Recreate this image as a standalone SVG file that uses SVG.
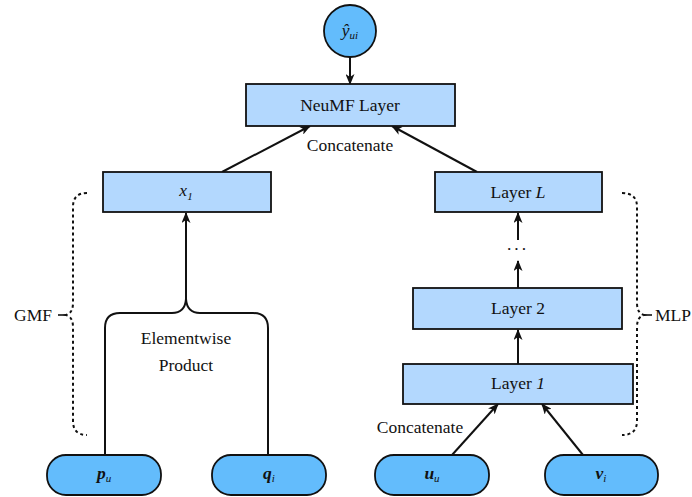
<svg xmlns="http://www.w3.org/2000/svg" width="692" height="497" viewBox="0 0 692 497">
<style>
.box{fill:#b3d8fe;stroke:#111;stroke-width:1.8}
.inp{fill:#63bcfc;stroke:#111;stroke-width:1.8}
.t{font-family:"Liberation Serif","Times New Roman",serif;font-size:17.5px;fill:#111;text-anchor:middle}
.ln{fill:none;stroke:#111;stroke-width:2}
.dot{fill:none;stroke:#111;stroke-width:2;stroke-dasharray:3,3}
</style>
<defs>
<marker id="ah" markerWidth="11" markerHeight="9" refX="10" refY="4.5" orient="auto" markerUnits="userSpaceOnUse">
<path d="M0,0 L11,4.5 L0,9 L3,4.5 Z" fill="#111"/>
</marker>
</defs>
<g id="connectors">
<line class="ln" x1="350" y1="57" x2="350" y2="84" marker-end="url(#ah)"/>
<line class="ln" x1="222" y1="172" x2="310" y2="126" marker-end="url(#ah)"/>
<line class="ln" x1="477" y1="172" x2="392" y2="126" marker-end="url(#ah)"/>
<line class="ln" x1="518" y1="240" x2="518" y2="213" marker-end="url(#ah)"/>
<line class="ln" x1="518" y1="288" x2="518" y2="261" marker-end="url(#ah)"/>
<line class="ln" x1="518" y1="364" x2="518" y2="330" marker-end="url(#ah)"/>
<line class="ln" x1="452" y1="455" x2="498" y2="404" marker-end="url(#ah)"/>
<line class="ln" x1="583" y1="455" x2="542" y2="404" marker-end="url(#ah)"/>
<path class="ln" d="M105,455 L105,328 Q105,313 120,313 L172,313 Q185,313 186,299 Q187,313 200,313 L253,313 Q268,313 268,328 L268,455"/>
<line class="ln" x1="186" y1="300" x2="186" y2="213" marker-end="url(#ah)"/>
<text class="t" x="350" y="151">Concatenate</text>
<text class="t" x="420" y="433">Concatenate</text>
<text class="t" x="186" y="344">Elementwise</text>
<text class="t" x="186" y="371">Product</text>
<text class="t" x="518" y="250" letter-spacing="3">...</text>
</g>
<g id="gmf">
<path class="dot" d="M87,193 Q73,193 73,207 L73,303 Q73,313 66,315 Q73,317 73,327 L73,421 Q73,435 87,435"/>
<line x1="58" y1="315" x2="66" y2="315" stroke="#111" stroke-width="1.6"/>
<text class="t" x="33" y="321">GMF</text>
</g>
<g id="mlp">
<path class="dot" d="M622,193 Q637,193 637,207 L637,303 Q637,313 644,315 Q637,317 637,327 L637,421 Q637,435 622,435"/>
<line x1="644" y1="315" x2="652" y2="315" stroke="#111" stroke-width="1.6"/>
<text class="t" x="673" y="321">MLP</text>
</g>
<g id="yhat">
<circle class="inp" cx="350" cy="31" r="26"/>
<text class="t" x="350" y="36" font-style="italic">ŷ<tspan font-size="11" dy="3">ui</tspan></text>
</g>
<g id="neumf">
<rect class="box" x="246" y="84" width="209" height="42"/>
<text class="t" x="350" y="111">NeuMF Layer</text>
</g>
<g id="x1">
<rect class="box" x="103" y="172" width="168" height="40"/>
<text class="t" x="186" y="196" font-style="italic">x<tspan font-size="11" dy="4">1</tspan></text>
</g>
<g id="layerL">
<rect class="box" x="435" y="172" width="167" height="40"/>
<text class="t" x="518" y="198">Layer <tspan font-style="italic">L</tspan></text>
</g>
<g id="layer2">
<rect class="box" x="413" y="288" width="209" height="41"/>
<text class="t" x="518" y="314">Layer 2</text>
</g>
<g id="layer1">
<rect class="box" x="403" y="364" width="230" height="40"/>
<text class="t" x="518" y="389">Layer <tspan font-style="italic">1</tspan></text>
</g>
<g id="pu">
<rect class="inp" x="47" y="455" width="114" height="40" rx="19"/>
<text class="t" x="104" y="479" font-style="italic"><tspan font-weight="bold">p</tspan><tspan font-size="11" dy="3">u</tspan></text>
</g>
<g id="qi">
<rect class="inp" x="212" y="455" width="114" height="40" rx="19"/>
<text class="t" x="269" y="479" font-style="italic"><tspan font-weight="bold">q</tspan><tspan font-size="11" dy="3">i</tspan></text>
</g>
<g id="uu">
<rect class="inp" x="375" y="455" width="114" height="40" rx="19"/>
<text class="t" x="432" y="479" font-style="italic"><tspan font-weight="bold">u</tspan><tspan font-size="11" dy="3">u</tspan></text>
</g>
<g id="vi">
<rect class="inp" x="545" y="455" width="113" height="40" rx="19"/>
<text class="t" x="601" y="479" font-style="italic"><tspan font-weight="bold">v</tspan><tspan font-size="11" dy="3">i</tspan></text>
</g>
</svg>
